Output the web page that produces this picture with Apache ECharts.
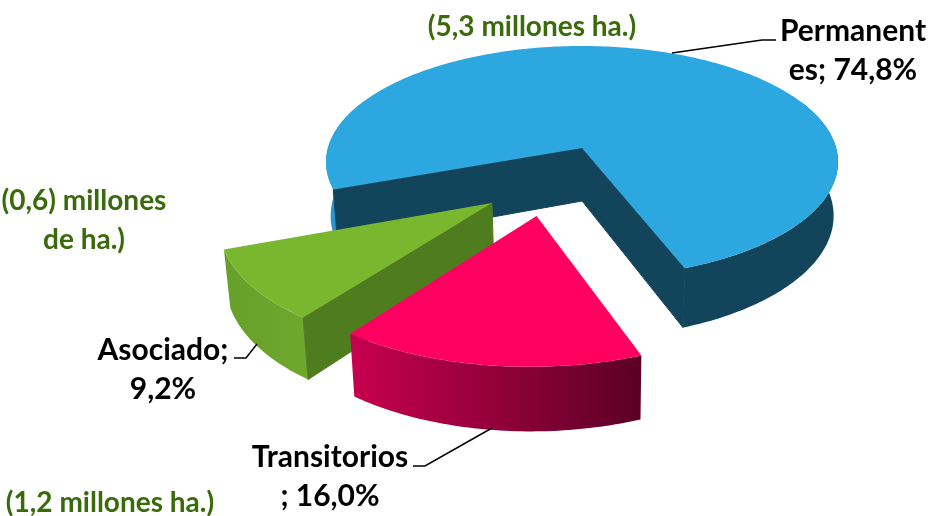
<!DOCTYPE html>
<html>
<head>
<meta charset="utf-8">
<style>
  html, body { margin: 0; padding: 0; background: #fff; }
  #chart { width: 931px; height: 516px; }
</style>
</head>
<body>
<div id="chart"></div>
<script src="https://cdn.jsdelivr.net/npm/echarts@6/dist/echarts.min.js"></script>
<script>
const categories = ['Permanentes', 'Transitorios', 'Asociado']
const shares = [74.8, 16.0, 9.2]
const sliceLabels = ['Permanent\nes; 74,8%', 'Transitorios\n; 16,0%', 'Asociado;\n9,2%']
const areaNotes = ['(5,3 millones ha.)', '(1,2 millones ha.)', '(0,6) millones\nde ha.)']

const FONT = 'Lato, Carlito, "Open Sans", sans-serif'
const startAngle = 159.7

// perspective of the pie plane, fitted on the picture
const view = { cx: 582, cy: 148, a: 254.1, b: 114.3, k: 0.1207 }
function project(u, v) {
  const d = 1 - view.k * v
  return [view.cx + view.a * u / d, view.cy + view.b * v / d]
}
function drop(p) {
  return [p[0] + (590 - p[0]) * 0.0175, p[1] + 53 + 0.053 * (p[1] - 148)]
}

const looks = [
  { off: [0, 0], top: '#2ca7e0', order: 0 },
  { off: [-0.167, 0.555], top: '#ff0060', order: 2 },
  { off: [-0.335, 0.455], top: '#78b72e', order: 1 }
]

function hgrad(c0, c1) {
  return new echarts.graphic.LinearGradient(0, 0, 1, 0, [
    { offset: 0, color: c0 },
    { offset: 1, color: c1 }
  ])
}

function arc(off, from, to) {
  const pts = []
  const n = Math.ceil(Math.abs(to - from))
  for (let i = 0; i <= n; i++) {
    const t = (from + (to - from) * i / n) * Math.PI / 180
    pts.push(project(off[0] + Math.cos(t), off[1] + Math.sin(t)))
  }
  return pts
}

function poly(points, fill, z2, seal) {
  return {
    type: 'polygon', z2,
    shape: { points },
    style: { fill, stroke: seal ? fill : null, lineWidth: seal ? 1 : 0 }
  }
}

// outer rim between two angles
function rim(off, from, to, fill, z2) {
  const top = arc(off, from, to)
  return poly(top.concat(top.map(drop).reverse()), fill, z2)
}

// flat wall from the apex out to the rim
function wall(off, angle, fill, z2) {
  const apex = project(off[0], off[1])
  const end = arc(off, angle, angle + 1)[0]
  return poly([apex, end, drop(end), drop(apex)], fill, z2, true)
}

const total = shares.reduce((s, v) => s + v, 0)

function renderSlice(params, api) {
  const i = params.dataIndex
  let from = startAngle
  for (let j = 0; j < i; j++) from += shares[j] / total * 360
  const to = from + api.value(1) / total * 360
  const look = looks[i]
  const z = look.order * 10
  const off = look.off
  const children = []
  if (i === 0) {
    children.push(rim(off, from, 205, hgrad('#2a9ad2', '#2a8dbf'), z))
    children.push(rim(off, 335, to, '#12445c', z))
    children.push(wall(off, from, '#12445c', z + 1))
    children.push(wall(off, to, '#12445c', z + 1))
  } else if (i === 1) {
    children.push(rim(off, from, to, hgrad('#c8004f', '#5c0026'), z))
  } else {
    children.push(rim(off, from, to, hgrad('#66a02a', '#6ea82c'), z))
    children.push(wall(off, from, '#507c20', z + 1))
  }
  children.push(poly([project(off[0], off[1])].concat(arc(off, from, to)), look.top, z + 2))
  return { type: 'group', children }
}

function textEl(text, x, y, fill, size) {
  return {
    type: 'text', x, y, z: 5,
    style: {
      text, fill, fontFamily: FONT, fontWeight: 'bold', fontSize: size,
      align: 'center', verticalAlign: 'middle', lineHeight: 39
    }
  }
}
function leader(points) {
  return {
    type: 'polyline', z: 5,
    shape: { points },
    style: { stroke: '#000', lineWidth: 1.5, fill: null }
  }
}

const myChart = echarts.init(document.getElementById('chart'))
myChart.setOption({
  backgroundColor: '#fff',
  animation: false,
  series: [{
    type: 'custom',
    coordinateSystem: 'none',
    silent: true,
    data: categories.map((name, i) => ({ name, value: [i, shares[i]] })),
    renderItem: renderSlice
  }],
  graphic: { elements: [
    leader([[672, 53], [762, 40], [776, 40]]),
    leader([[234, 358], [246, 358], [257, 344]]),
    leader([[413, 466], [425, 466], [492, 428]]),
    textEl(sliceLabels[0], 853, 51, '#000', 30),
    textEl(sliceLabels[1], 330, 477, '#000', 30),
    textEl(sliceLabels[2], 163, 370, '#000', 30),
    textEl(areaNotes[0], 532, 27, '#3a6b0b', 28),
    textEl(areaNotes[1], 110, 503, '#3a6b0b', 28),
    textEl(areaNotes[2], 84, 220, '#3a6b0b', 28)
  ] }
})
</script>
</body>
</html>
